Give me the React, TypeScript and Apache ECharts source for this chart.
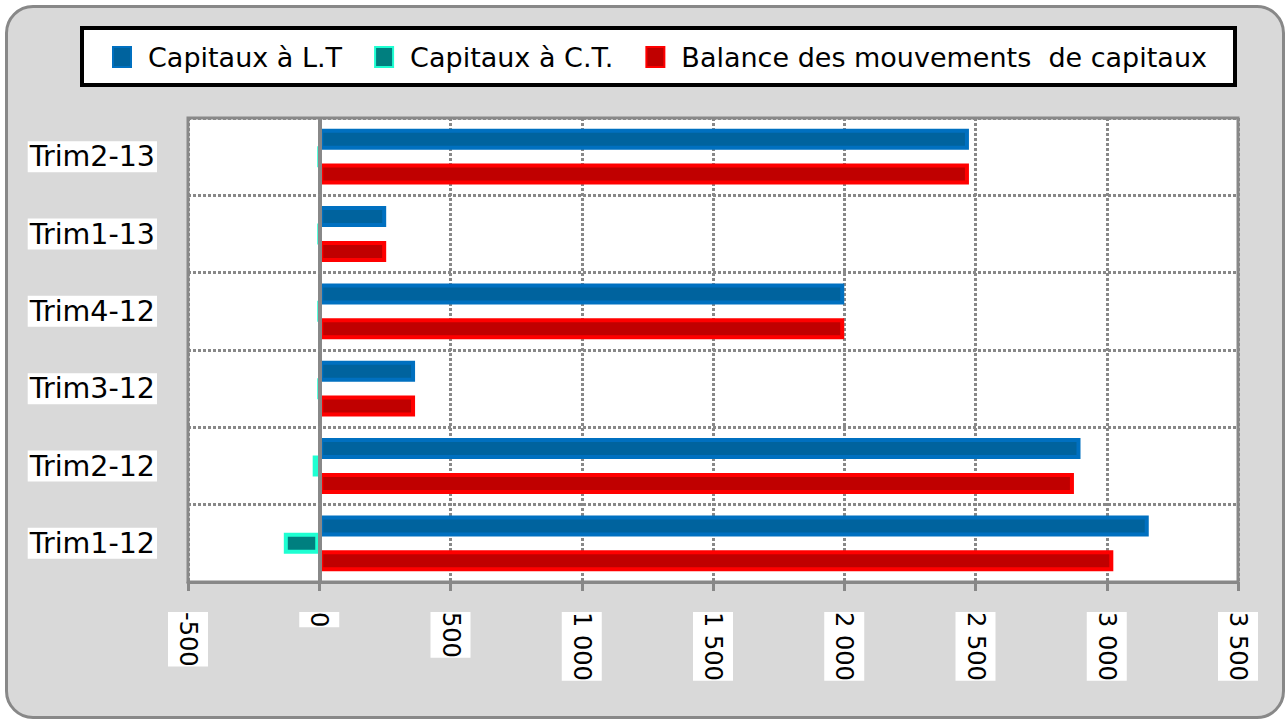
import React, { useEffect, useRef } from "react";
import * as echarts from "echarts";

const categories = ["Trim1-12", "Trim2-12", "Trim3-12", "Trim4-12", "Trim1-13", "Trim2-13"];
const capitauxLT = [3160, 2900, 365, 2000, 255, 2475];
const capitauxCT = [-135, -25, 0, 0, 0, 0];
const balance = [3025, 2875, 365, 2000, 255, 2475];
const seriesNames = ["Capitaux à L.T", "Capitaux à C.T.", "Balance des mouvements  de capitaux"];
const xMin = -500;
const xMax = 3500;
const xInterval = 500;

const fmt = (v: number) => {
  const s = Math.abs(v).toString().replace(/\B(?=(\d{3})+(?!\d))/g, " ");
  return (v < 0 ? "-" : "") + s;
};

export default function App() {
  const ref = useRef<HTMLDivElement>(null);
  useEffect(() => {
    if (!ref.current) return;
    const chart = echarts.init(ref.current, undefined, { renderer: "svg" });
    const barBase = {
      type: "bar",
      barWidth: 21,
      barGap: "-17%",
    };
    chart.setOption({
      animation: false,
      textStyle: { fontFamily: "DejaVu Sans" },
      graphic: [
        {
          type: "rect",
          shape: { x: 82, y: 28, width: 1153, height: 57 },
          style: { fill: "#ffffff", stroke: "#000000", lineWidth: 4 },
          z: 1,
        },
      ],
      legend: {
        left: 112,
        top: 41,
        padding: 0,
        icon: "rect",
        itemWidth: 18,
        itemHeight: 20,
        itemGap: 32,
        textStyle: {
          fontFamily: "DejaVu Sans",
          fontSize: 27,
          color: "#000",
          lineHeight: 32,
          padding: [0, 0, 0, 12],
        },
        data: seriesNames,
      },
      grid: {
        left: 188,
        right: 49,
        top: 118,
        bottom: 140,
        show: true,
        backgroundColor: "#ffffff",
        borderColor: "#888888",
        borderWidth: 3,
      },
      xAxis: {
        type: "value",
        min: xMin,
        max: xMax,
        interval: xInterval,
        axisLine: { show: true, onZero: false, lineStyle: { color: "#888888", width: 3 } },
        axisTick: { show: true, length: 9, lineStyle: { color: "#888888", width: 3 } },
        splitLine: { show: true, lineStyle: { color: "#888888", width: 3, type: [3, 2] } },
        axisLabel: {
          rotate: -90,
          margin: 30,
          fontSize: 24,
          color: "#000",
          fontFamily: "DejaVu Sans",
          backgroundColor: "#ffffff",
          padding: [8, 0, 8, 0],
          formatter: (v: number) => fmt(v),
        },
      },
      yAxis: {
        type: "category",
        data: categories,
        axisLine: { show: false, onZero: false },
        axisTick: { show: false },
        splitLine: { show: true, lineStyle: { color: "#888888", width: 3, type: [3, 2] } },
        axisLabel: {
          margin: 31,
          fontSize: 28.5,
          color: "#000",
          fontFamily: "DejaVu Sans",
          backgroundColor: "#ffffff",
          padding: [1, 2, 1, 2],
        },
      },
      series: [
        {
          ...barBase,
          name: seriesNames[0],
          data: capitauxLT,
          itemStyle: { color: "#00639E", borderColor: "#0070C0", borderWidth: 4 },
        },
        {
          ...barBase,
          name: seriesNames[1],
          data: capitauxCT,
          itemStyle: { color: "#007F7F", borderColor: "#1EFFD2", borderWidth: 4 },
        },
        {
          ...barBase,
          name: seriesNames[2],
          data: balance,
          itemStyle: { color: "#C00000", borderColor: "#FF0000", borderWidth: 4 },
          markLine: {
            silent: true,
            symbol: "none",
            label: { show: false },
            lineStyle: { color: "#888888", width: 4, type: "solid" },
            data: [{ xAxis: 0 }],
          },
        },
      ],
    });
    return () => chart.dispose();
  }, []);

  return (
    <div style={{ position: "fixed", left: 0, top: 0, width: 1287, height: 722, background: "#ffffff" }}>
      <div
        style={{
          position: "absolute",
          left: 5,
          top: 5,
          width: 1274,
          height: 708,
          background: "#D9D9D9",
          border: "3px solid #888888",
          borderRadius: 28,
        }}
      />
      <div ref={ref} style={{ position: "absolute", left: 0, top: 0, width: 1287, height: 722 }} />
    </div>
  );
}
